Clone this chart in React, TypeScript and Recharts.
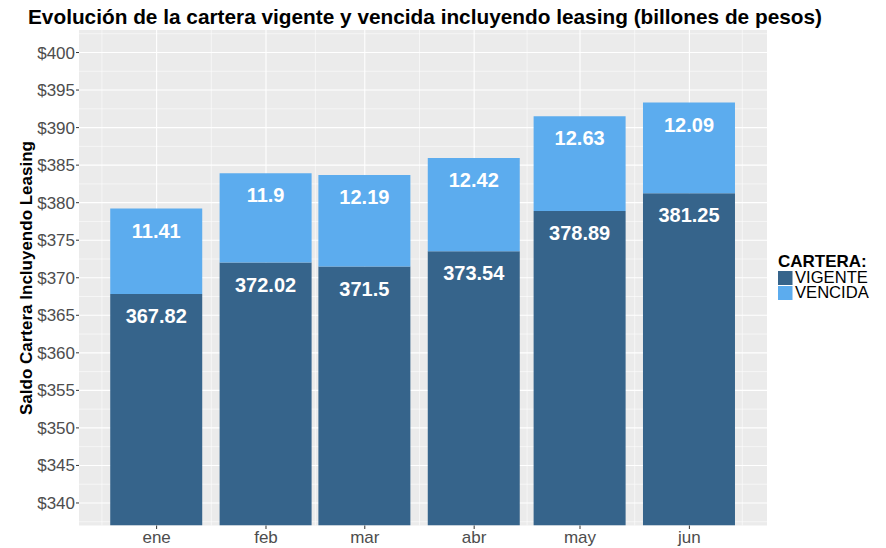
import React from 'react';
import { BarChart, Bar, XAxis, YAxis, CartesianGrid, LabelList } from 'recharts';

// ---- data ----
const months = ['ene', 'feb', 'mar', 'abr', 'may', 'jun'];
// date of each bar: day-of-year of the 1st of each month (ene..jun)
const monthDay = [0, 31, 59, 90, 120, 151];
const prevMonthDay = -31; // 1 dic
const nextMonthDay = 181; // 1 jul
const vigente = [367.82, 372.02, 371.5, 373.54, 378.89, 381.25];
const vencida = [11.41, 11.9, 12.19, 12.42, 12.63, 12.09];
const seriesKeys = ['vigente', 'vencida'];
const seriesNames = ['VIGENTE', 'VENCIDA'];
const seriesColors = ['#36648B', '#5CACEE'];
const yTicks = [340, 345, 350, 355, 360, 365, 370, 375, 380, 385, 390, 395, 400];
const yDomain = [337, 403];
const xDomain = [-22, 173];

const title = 'Evolución de la cartera vigente y vencida incluyendo leasing (billones de pesos)';
const yLabel = 'Saldo Cartera Incluyendo Leasing';
const legendTitle = 'CARTERA:';

const data = months.map((m, i) => ({ day: monthDay[i], month: m, vigente: vigente[i], vencida: vencida[i] }));

const yMinor = [yDomain[0] + 0.5, ...yTicks.map((t) => t + 2.5)];
const allDays = [prevMonthDay, ...monthDay, nextMonthDay];
const xMinor = allDays.slice(1).map((d, i) => (d + allDays[i]) / 2);

const FONT = '"Liberation Sans", Arial, Helvetica, sans-serif';

export default function App() {
  return (
    <div style={{ position: 'absolute', left: 0, top: 0, width: 886, height: 548, background: '#fff', fontFamily: FONT }}>
      <BarChart width={886} height={548} data={data} margin={{ top: 30, right: 119, bottom: 0, left: 0 }}>
        <CartesianGrid fill="#EBEBEB" stroke="#FFFFFF" strokeWidth={0.55} horizontalValues={yMinor} verticalValues={xMinor} />
        <CartesianGrid stroke="#FFFFFF" strokeWidth={1.1} horizontalValues={yTicks} verticalValues={monthDay} />
        <XAxis
          dataKey="day"
          type="number"
          domain={xDomain}
          allowDataOverflow
          ticks={monthDay}
          interval={0}
          tickFormatter={(v: number) => months[monthDay.indexOf(v)]}
          height={22.5}
          tickSize={3.5}
          tickMargin={1.6}
          axisLine={false}
          tickLine={{ stroke: '#333333' }}
          tick={{ fill: '#4D4D4D', fontSize: 17, fontFamily: FONT }}
        />
        <YAxis
          type="number"
          domain={yDomain}
          allowDataOverflow
          ticks={yTicks}
          interval={0}
          tickFormatter={(v: number) => `$${v}`}
          width={79}
          tickSize={3}
          tickMargin={1}
          axisLine={false}
          tickLine={{ stroke: '#333333' }}
          tick={{ fill: '#4D4D4D', fontSize: 17, fontFamily: FONT }}
        />
        {seriesKeys.map((k, i) => (
          <Bar key={k} dataKey={k} name={seriesNames[i]} stackId="a" fill={seriesColors[i]} barSize={92} isAnimationActive={false}>
            <LabelList dataKey={k} position="insideTop" offset={15} fill="#FFFFFF" fontSize={20} fontWeight="bold" fontFamily={FONT} />
          </Bar>
        ))}
      </BarChart>
      <svg width={886} height={548} style={{ position: 'absolute', left: 0, top: 0, pointerEvents: 'none' }}>
        <text x={28} y={23.5} fontSize={20.8} fontWeight="bold" fill="#000" fontFamily={FONT}>{title}</text>
        <text transform="translate(32,278) rotate(-90)" textAnchor="middle" fontSize={17} fontWeight="bold" fill="#000" fontFamily={FONT}>{yLabel}</text>
        <text x={778} y={266.7} fontSize={17} fontWeight="bold" fill="#000" fontFamily={FONT}>{legendTitle}</text>
        {seriesNames.map((n, i) => (
          <g key={n}>
            <rect x={778} y={271 + i * 15} width={14.5} height={14} fill={seriesColors[i]} />
            <text x={795} y={283.3 + i * 15} fontSize={16.6} fill="#000" fontFamily={FONT}>{n}</text>
          </g>
        ))}
      </svg>
    </div>
  );
}
